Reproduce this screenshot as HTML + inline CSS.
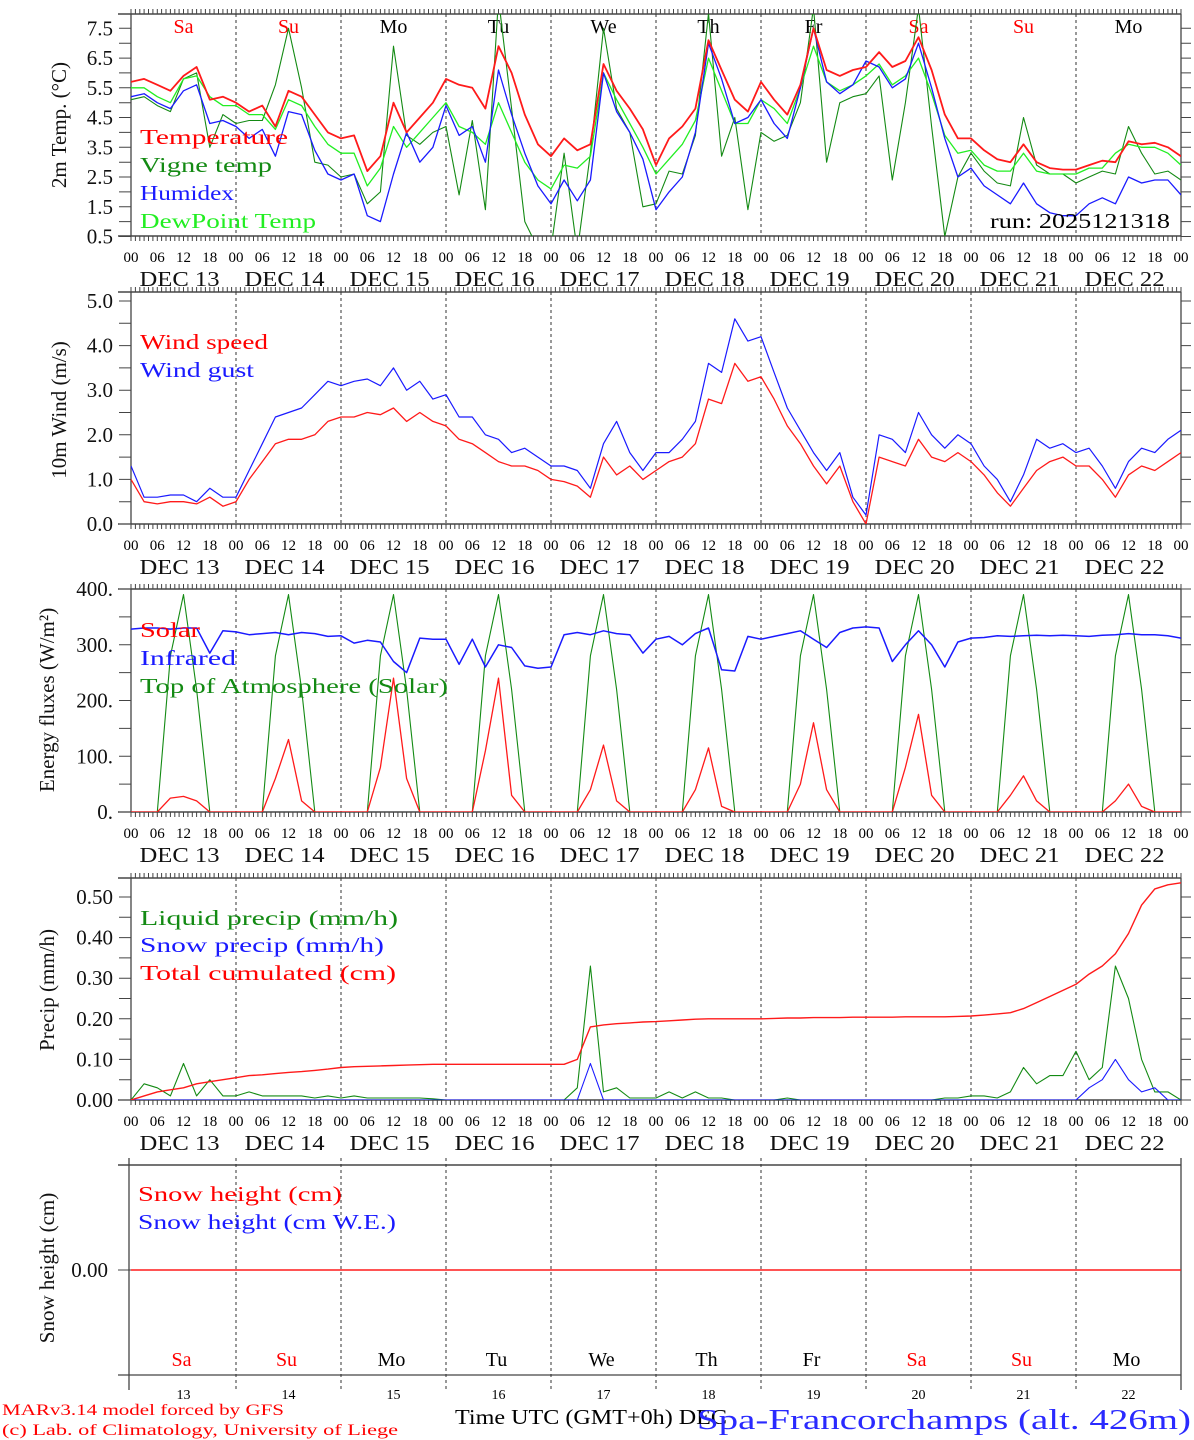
<!DOCTYPE html>
<html><head><meta charset="utf-8">
<style>
html,body{margin:0;padding:0;background:#fff;}
svg{display:block;}
text{font-family:"Liberation Serif",serif;}
</style></head>
<body>
<svg id="chart" width="1194" height="1440" viewBox="0 0 1194 1440" xmlns="http://www.w3.org/2000/svg"></svg>
<script>
// ---------- DATA (3-hourly, 81 points from Dec 13 00 UTC) ----------
const days = ["13","14","15","16","17","18","19","20","21","22"];
const dayNames = ["Sa","Su","Mo","Tu","We","Th","Fr","Sa","Su","Mo"];
const hourTickLabels = ["00","06","12","18"];
const tempTicks = ["0.5","1.5","2.5","3.5","4.5","5.5","6.5","7.5"];
const windTicks = ["0.0","1.0","2.0","3.0","4.0","5.0"];
const fluxTicks = ["0.","100.","200.","300.","400."];
const precipTicks = ["0.00","0.10","0.20","0.30","0.40","0.50"];

const temperature = [5.7,5.8,5.6,5.4,5.9,6.2,5.1,5.2, 5.0,4.7,4.9,4.2,5.4,5.2,4.6,4.0, 3.8,3.9,2.7,3.2,5.0,4.0,4.5,5.0,
 5.8,5.6,5.5,4.8,6.9,6.0,4.6,3.6, 3.2,3.8,3.4,3.6,6.3,5.4,4.8,4.1, 2.9,3.8,4.2,4.8,7.1,6.1,5.1,4.7,
 5.7,5.1,4.6,5.6,7.5,6.1,5.9,6.1, 6.2,6.7,6.2,6.4,7.2,6.1,4.6,3.8, 3.8,3.4,3.1,3.0,3.6,3.0,2.8,2.75,
 2.75,2.9,3.05,3.0,3.7,3.6,3.65,3.5,3.2];
const dewpoint = [5.5,5.5,5.2,5.0,5.8,5.9,5.2,4.9, 4.9,4.6,4.6,4.1,5.1,4.9,4.2,3.6, 3.3,3.3,2.2,2.8,4.2,3.5,4.0,4.5,
 5.0,4.2,4.0,3.6,5.0,4.0,3.0,2.4, 2.1,2.9,2.8,3.2,6.0,5.1,4.3,3.5, 2.6,3.1,3.6,4.4,6.5,5.4,4.3,4.3,
 5.1,4.8,4.3,5.5,6.9,5.7,5.4,5.6, 5.9,6.3,5.6,5.9,6.5,5.3,3.9,3.3, 3.4,2.9,2.7,2.7,3.3,2.7,2.6,2.6,
 2.6,2.8,2.8,3.3,3.6,3.5,3.5,3.3,2.9];
const humidex = [5.2,5.3,5.0,4.8,5.4,5.6,4.3,4.4, 4.2,3.8,4.1,3.2,4.7,4.6,3.4,2.6, 2.4,2.6,1.2,1.0,2.6,4.0,3.0,3.5,
 4.9,3.9,4.2,3.0,6.1,4.6,3.3,2.2, 1.6,2.4,1.7,2.4,6.0,4.7,4.0,3.1, 1.4,2.0,2.5,4.0,7.0,5.8,4.3,4.5,
 5.1,4.3,3.8,5.5,7.5,5.7,5.3,5.6, 6.4,6.2,5.5,5.8,7.0,5.5,3.8,2.5, 2.8,2.2,1.9,1.6,2.3,1.6,1.3,1.2,
 1.2,1.6,1.8,1.6,2.5,2.3,2.4,2.4,1.9];
const vigne = [5.1,5.2,4.9,4.7,5.8,6.0,3.5,4.6, 4.3,4.4,4.4,5.6,7.5,5.5,3.0,2.9, 2.5,2.6,1.6,2.0,6.9,3.9,3.6,4.0,
 4.2,1.9,4.4,1.4,8.5,4.8,1.0,0.1, 0.1,3.3,0.0,3.3,7.5,4.8,4.0,1.5, 1.6,2.7,2.6,3.9,8.0,3.2,4.5,1.4,
 4.0,3.7,3.9,5.0,8.2,3.0,5.0,5.2, 5.3,5.9,2.4,5.0,8.2,4.2,0.5,2.5, 3.3,2.7,2.3,2.2,4.5,2.9,2.6,2.6,
 2.3,2.5,2.7,2.6,4.2,3.3,2.6,2.7,2.4];

const windSpeed = [1.0,0.5,0.45,0.5,0.5,0.45,0.6,0.4, 0.5,1.0,1.4,1.8,1.9,1.9,2.0,2.3, 2.4,2.4,2.5,2.45,2.6,2.3,2.5,2.3,
 2.2,1.9,1.8,1.6,1.4,1.3,1.3,1.2, 1.0,0.95,0.85,0.6,1.5,1.1,1.3,1.0, 1.2,1.4,1.5,1.8,2.8,2.7,3.6,3.2,
 3.3,2.8,2.2,1.8,1.3,0.9,1.3,0.5, 0.0,1.5,1.4,1.3,1.9,1.5,1.4,1.6, 1.4,1.1,0.7,0.4,0.8,1.2,1.4,1.5,
 1.3,1.3,1.0,0.6,1.1,1.3,1.2,1.4,1.6];
const windGust = [1.3,0.6,0.6,0.65,0.65,0.5,0.8,0.6, 0.6,1.2,1.8,2.4,2.5,2.6,2.9,3.2, 3.1,3.2,3.25,3.1,3.5,3.0,3.2,2.8,
 2.9,2.4,2.4,2.0,1.9,1.6,1.7,1.5, 1.3,1.3,1.2,0.8,1.8,2.3,1.6,1.2, 1.6,1.6,1.9,2.3,3.6,3.4,4.6,4.1,
 4.2,3.4,2.6,2.1,1.6,1.2,1.6,0.6, 0.2,2.0,1.9,1.6,2.5,2.0,1.7,2.0, 1.8,1.3,1.0,0.5,1.1,1.9,1.7,1.8,
 1.6,1.7,1.3,0.8,1.4,1.7,1.6,1.9,2.1];

const solar = [0,0,0,25,28,20,0,0, 0,0,0,60,130,20,0,0, 0,0,0,80,240,60,0,0, 0,0,0,110,240,30,0,0,
 0,0,0,40,120,20,0,0, 0,0,0,40,115,10,0,0, 0,0,0,50,160,40,0,0, 0,0,0,80,175,30,0,0,
 0,0,0,30,65,20,0,0, 0,0,0,20,50,10,0,0,0];
const infrared = [328,330,330,328,330,330,285,325, 323,318,320,322,318,322,320,315, 316,303,308,305,270,250,312,310,
 310,265,310,260,300,295,262,258, 260,318,322,318,325,320,318,285, 310,315,300,320,330,255,253,315,
 310,315,320,325,310,295,322,330, 332,330,270,300,325,300,260,305, 312,313,316,315,316,317,316,317,
 316,315,317,318,320,318,318,316,312];
const toaSolar = [0,0,0,280,390,220,0,0, 0,0,0,280,390,220,0,0, 0,0,0,280,390,220,0,0, 0,0,0,280,390,220,0,0,
 0,0,0,280,390,220,0,0, 0,0,0,280,390,220,0,0, 0,0,0,280,390,220,0,0, 0,0,0,280,390,220,0,0,
 0,0,0,280,390,220,0,0, 0,0,0,280,390,220,0,0,0];

const liquidPrecip = [0.0,0.04,0.03,0.01,0.09,0.01,0.05,0.01, 0.01,0.02,0.01,0.01,0.01,0.01,0.005,0.01, 0.005,0.01,0.005,0.005,0.005,0.005,0.005,0.003,
 0,0,0,0,0,0,0,0, 0,0,0.03,0.33,0.02,0.03,0.005,0.005, 0.005,0.02,0.005,0.02,0.005,0.005,0,0,
 0,0,0.005,0,0,0,0,0, 0,0,0,0,0,0,0.005,0.005, 0.01,0.01,0.005,0.02,0.08,0.04,0.06,0.06,
 0.12,0.05,0.08,0.33,0.25,0.1,0.02,0.02,0];
const snowPrecip = [0,0,0,0,0,0,0,0, 0,0,0,0,0,0,0,0, 0,0,0,0,0,0,0,0, 0,0,0,0,0,0,0,0,
 0,0,0,0.09,0,0,0,0, 0,0,0,0,0,0,0,0, 0,0,0,0,0,0,0,0, 0,0,0,0,0,0,0,0,
 0,0,0,0,0,0,0,0, 0,0.03,0.05,0.1,0.05,0.02,0.03,0,0];
const cumulated = [0,0.01,0.02,0.025,0.03,0.04,0.045,0.05, 0.055,0.06,0.062,0.065,0.068,0.07,0.073,0.076,
 0.08,0.082,0.083,0.084,0.085,0.086,0.087,0.088, 0.088,0.088,0.088,0.088,0.088,0.088,0.088,0.088,
 0.088,0.088,0.1,0.18,0.185,0.188,0.19,0.192, 0.193,0.195,0.197,0.199,0.2,0.2,0.2,0.2,
 0.2,0.201,0.202,0.202,0.203,0.203,0.203,0.204, 0.204,0.204,0.204,0.205,0.205,0.205,0.205,0.206,
 0.207,0.209,0.212,0.215,0.225,0.24,0.255,0.27, 0.285,0.31,0.33,0.36,0.41,0.48,0.52,0.53,0.535];
const snowHeight = [0,0,0,0,0,0,0,0,0,0, 0,0,0,0,0,0,0,0,0,0, 0,0,0,0,0,0,0,0,0,0, 0,0,0,0,0,0,0,0,0,0,
 0,0,0,0,0,0,0,0,0,0, 0,0,0,0,0,0,0,0,0,0, 0,0,0,0,0,0,0,0,0,0, 0,0,0,0,0,0,0,0,0,0,0];

// ---------- DRAWING ----------
const NS="http://www.w3.org/2000/svg";
const svg=document.getElementById('chart');
const X0=131, X1=1181, STEP_H=3;
function xh(h){return X0+h*(X1-X0)/240;}
function mk(tag,attrs,parent){const e=document.createElementNS(NS,tag);for(const k in attrs)e.setAttribute(k,attrs[k]);(parent||svg).appendChild(e);return e;}
function txt(str,x,y,size,fill,anchor,extra){const t=mk('text',Object.assign({x:x,y:y,'font-size':size,fill:fill||'#000','text-anchor':anchor||'start'},extra||{}));t.textContent=str;return t;}
const SF={'font-family':'Liberation Serif,serif',lengthAdjust:'spacingAndGlyphs'};

function panel(id,top,bot,yfun,vmin,vmax,ticks,tickVals,minorStep){
  const g=mk('g',{});
  
  
  mk('line',{x1:118,y1:top,x2:X1,y2:top,stroke:'#222','stroke-width':1.3},g);
  mk('line',{x1:118,y1:bot,x2:X1,y2:bot,stroke:'#222','stroke-width':1.3},g);
  mk('line',{x1:X0,y1:top,x2:X0,y2:bot,stroke:'#444','stroke-width':1.3},g);
  mk('line',{x1:X1,y1:top,x2:X1,y2:bot,stroke:'#444','stroke-width':1.3},g);
  let p='';
  for(let h=0;h<=240;h++){const x=xh(h).toFixed(1);p+=`M${x} ${top}v-5M${x} ${bot}v5`;}
  mk('path',{d:p,stroke:'#444','stroke-width':1},g);
  for(let d=1;d<10;d++){const x=xh(d*24);mk('line',{x1:x,y1:top,x2:x,y2:bot,stroke:'#333','stroke-width':1,'stroke-dasharray':'3,3'},g);}
  let q='';
  for(let v=vmin;v<=vmax+1e-9;v+=minorStep){const y=yfun(v).toFixed(1);q+=`M${X0} ${y}h-12M${X1} ${y}h10`;}
  mk('path',{d:q,stroke:'#444','stroke-width':1},g);
  ticks.forEach((lab,i)=>{const t=txt(lab,113,yfun(tickVals[i])+7,21,'#111','end');
    
    });
  return g;
}
function xlabels(bot){
  for(let d=0;d<=10;d++){
    for(let k=0;k<4;k++){ if(d==10&&k>0)break;
      const t=txt(hourTickLabels[k],xh(d*24+k*6),bot+26,15,'#000','middle');
      
      }
    if(d<10){const t=txt('DEC '+days[d],xh(d*24+12)-4,bot+50,21,'#111','middle',Object.assign({textLength:80},SF));
      
      }
  }
}
function series(arr,yfun,color,name,width,clipId){
  const d=arr.map((v,i)=>(i?'L':'M')+xh(i*STEP_H).toFixed(1)+' '+yfun(v).toFixed(1)).join('');
  const attrs={d:d,fill:'none',stroke:color,'stroke-width':width||1.3,'stroke-linejoin':'round'};
  if(clipId)attrs['clip-path']='url(#'+clipId+')';
  const p=mk('path',attrs);
  
  
  return p;
}
function legend(str,x,y,color,len){const t=txt(str,x,y,21,color,'start',Object.assign({textLength:len},SF));
  
  }
function ytitle(str,x,y){const t=txt(str,0,0,21,'#111','middle',{transform:`translate(${x},${y}) rotate(-90)`});
  
  return t;}

const defs=mk('defs',{});
function clip(id,top,bot){const c=mk('clipPath',{id:id},defs);mk('rect',{x:X0,y:top,width:X1-X0,height:bot-top},c);}

// Panel 1: temperature
const y1=v=>236.5-(v-0.5)*29.74;
clip('c1',14,236);
panel('temperature',14,236,y1,0.5,7.5,tempTicks,[0.5,1.5,2.5,3.5,4.5,5.5,6.5,7.5],0.5);
dayNames.forEach((n,d)=>{const t=txt(n,xh(d*24+12),33,20,(n=='Sa'||n=='Su')?'#f00':'#000','middle');
  
  });
series(vigne,y1,'#138a13','vigne-temp-line',1.1,'c1');
series(dewpoint,y1,'#22ee22','dewpoint-line',1.3,'c1');
series(humidex,y1,'#1a1aff','humidex-line',1.3,'c1');
series(temperature,y1,'#ff1a1a','temperature-line',1.8,'c1');
legend('Temperature',140,144,'#f00',148);
legend('Vigne temp',140,172,'#138a13',132);
legend('Humidex',140,200,'#1a1aff',94);
legend('DewPoint Temp',140,228,'#22ee22',176);
{const t=txt('run: 2025121318',990,228,21,'#000','start',Object.assign({textLength:180},SF));
 
 }
ytitle('2m Temp. (°C)',66,125);
xlabels(236);

// Panel 2: wind
const y2=v=>524-v*44.6;
clip('c2',292,524);
panel('wind',292,524,y2,0,5.0,windTicks,[0,1,2,3,4,5],0.5);
series(windGust,y2,'#1a1aff','wind-gust-line',1.2,'c2');
series(windSpeed,y2,'#ff1a1a','wind-speed-line',1.3,'c2');
legend('Wind speed',140,349,'#f00',128);
legend('Wind gust',140,377,'#1a1aff',114);
ytitle('10m Wind (m/s)',66,410);
xlabels(524);

// Panel 3: energy
const y3=v=>812-v*0.5575;
clip('c3',589,812);
panel('energy',589,812,y3,0,400,fluxTicks,[0,100,200,300,400],50);
series(toaSolar,y3,'#138a13','toa-solar-line',1.1,'c3');
series(solar,y3,'#ff1a1a','solar-line',1.3,'c3');
series(infrared,y3,'#1a1aff','infrared-line',1.5,'c3');
legend('Solar',140,637,'#f00',60);
legend('Infrared',140,665,'#1a1aff',96);
legend('Top of Atmosphere (Solar)',140,693,'#138a13',308);
ytitle('Energy fluxes (W/m²)',54,700);
xlabels(812);

// Panel 4: precip
const y4=v=>1100-v*406;
clip('c4',878,1100);
panel('precip',878,1100,y4,0,0.5,precipTicks,[0,0.1,0.2,0.3,0.4,0.5],0.05);
series(liquidPrecip,y4,'#138a13','liquid-precip-line',1.1,'c4');
series(snowPrecip,y4,'#1a1aff','snow-precip-line',1.1,'c4');
series(cumulated,y4,'#ff1a1a','cumulated-precip-line',1.4,'c4');
legend('Liquid precip (mm/h)',140,925,'#138a13',258);
legend('Snow precip (mm/h)',140,952,'#1a1aff',244);
legend('Total cumulated (cm)',140,980,'#f00',256);
ytitle('Precip (mm/h)',54,990);
xlabels(1100);

// Panel 5: snow height
{const g=mk('g',{});
 
 
 mk('line',{x1:118,y1:1165,x2:X1,y2:1165,stroke:'#222','stroke-width':1.3},g);
 mk('line',{x1:118,y1:1375,x2:X1,y2:1375,stroke:'#444','stroke-width':1.3},g);
 mk('line',{x1:X0-2,y1:1158,x2:X0-2,y2:1390,stroke:'#444','stroke-width':1.3},g);
 mk('line',{x1:X1,y1:1158,x2:X1,y2:1390,stroke:'#444','stroke-width':1.3},g);
 for(let d=1;d<10;d++){const x=xh(d*24);mk('line',{x1:x,y1:1158,x2:x,y2:1390,stroke:'#333','stroke-width':1,'stroke-dasharray':'3,3'},g);}
 mk('line',{x1:118,y1:1270,x2:X0,y2:1270,stroke:'#444','stroke-width':1},g);
 const t=txt('0.00',108,1277,21,'#111','end');
 
 
}
const y5=v=>1270-v*100;
series(snowHeight,y5,'#ff1a1a','snow-height-line',1.5);
legend('Snow height (cm)',138,1201,'#f00',204);
legend('Snow height (cm W.E.)',138,1229,'#1a1aff',258);
ytitle('Snow height (cm)',54,1268);
dayNames.forEach((n,d)=>{const t=txt(n,xh(d*24+12)-2,1366,20,(n=='Sa'||n=='Su')?'#f00':'#000','middle');
  
  
  const u=txt(days[d],xh(d*24+12),1399,14,'#000','middle');
  
  });

// Footer
{let t=txt('MARv3.14 model forced by GFS',2,1415,16,'#f00','start',Object.assign({textLength:282},SF));
 
 
 t=txt('(c) Lab. of Climatology, University of Liege',2,1435,16,'#f00','start',Object.assign({textLength:396},SF));
 
 
 t=txt('Time UTC (GMT+0h) DEC',455,1424,21,'#000','start',Object.assign({textLength:272},SF));
 
 
 t=txt('Spa-Francorchamps (alt. 426m)',697,1429,29,'#2a2aff','start',Object.assign({textLength:494},SF));
 
 }
</script>
</body></html>
